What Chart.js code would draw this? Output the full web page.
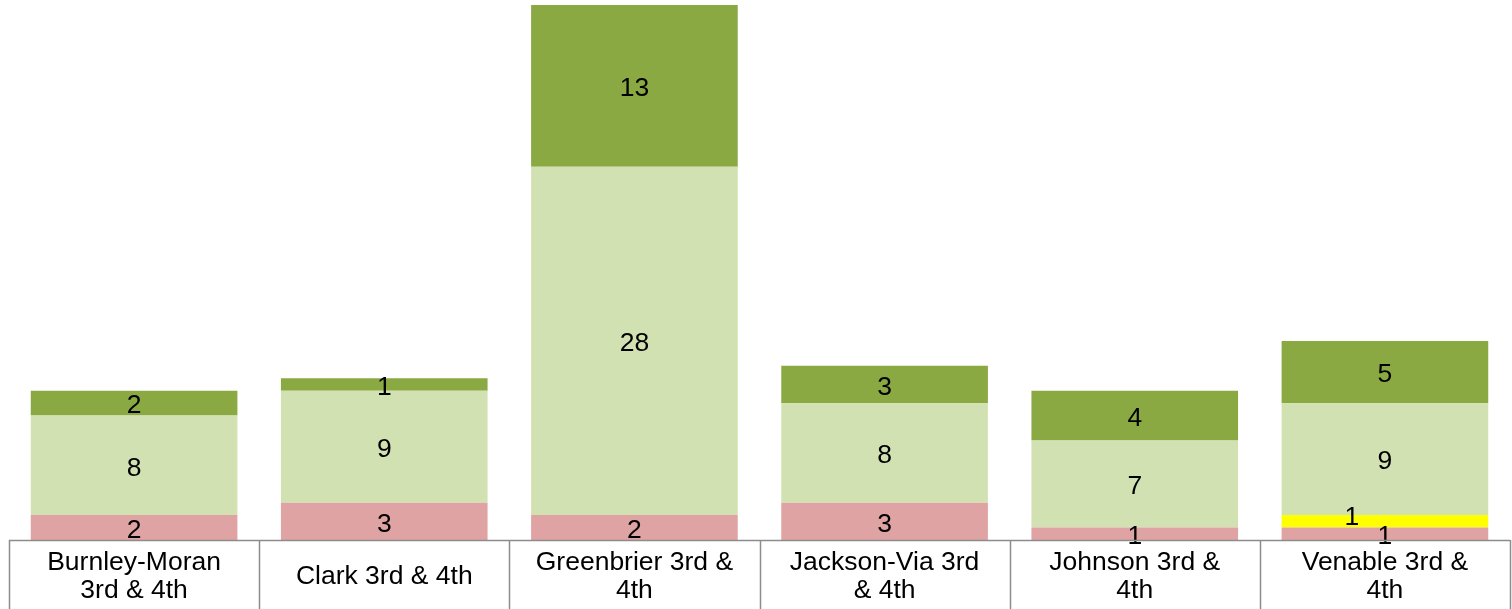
<!DOCTYPE html>
<html lang="en">
<head>
    <meta charset="UTF-8">
    <title>3rd & 4th Grade Results by School</title>
    <script src="https://cdn.jsdelivr.net/npm/chart.js"></script>
    <style>
        html, body { margin: 0; padding: 0; background: #fff; }
        #wrap { width: 1512px; height: 609px; position: relative; }
    </style>
</head>
<body>
    <div id="wrap"><canvas id="chart"></canvas></div>

    <script>
        const schools = [
            ['Burnley-Moran', '3rd & 4th'],
            'Clark 3rd & 4th',
            ['Greenbrier 3rd &', '4th'],
            ['Jackson-Via 3rd', '& 4th'],
            ['Johnson 3rd &', '4th'],
            ['Venable 3rd &', '4th']
        ];
        const pinkValues = [2, 3, 2, 3, 1, 1];
        const yellowValues = [0, 0, 0, 0, 0, 1];
        const lightGreenValues = [8, 9, 28, 8, 7, 9];
        const darkGreenValues = [2, 1, 13, 3, 4, 5];
        const yMax = 43;

        const FONT = '"Liberation Sans", Arial, sans-serif';

        // value labels in the middle of each segment
        const segmentLabels = {
            id: 'segmentLabels',
            afterDatasetsDraw(chart) {
                const ctx = chart.ctx;
                ctx.save();
                ctx.font = '26.5px ' + FONT;
                ctx.fillStyle = '#000';
                ctx.textAlign = 'center';
                ctx.textBaseline = 'middle';
                chart.data.datasets.forEach((ds, i) => {
                    const meta = chart.getDatasetMeta(i);
                    const dx = ds.labelShiftX || 0;
                    const dy = ds.labelShiftY || 0;
                    meta.data.forEach((bar, j) => {
                        const v = ds.data[j];
                        if (!v) return;
                        ctx.fillText(String(v), bar.x + dx, (bar.y + bar.base) / 2 + 3 + dy);
                    });
                });
                ctx.restore();
            }
        };

        // table-style box under the bars
        const categoryBox = {
            id: 'categoryBox',
            afterDraw(chart) {
                const ctx = chart.ctx;
                const x = chart.scales.x;
                const area = chart.chartArea;
                const half = (x.getPixelForValue(1) - x.getPixelForValue(0)) / 2;
                ctx.save();
                ctx.strokeStyle = '#8c8c8c';
                ctx.lineWidth = 1.5;
                ctx.beginPath();
                ctx.moveTo(x.left, area.bottom + 0.5);
                ctx.lineTo(x.right, area.bottom + 0.5);
                for (let i = 0; i <= schools.length; i++) {
                    const px = Math.round(x.getPixelForValue(i) - half) + 0.5;
                    ctx.moveTo(px, area.bottom);
                    ctx.lineTo(px, chart.height);
                }
                ctx.stroke();
                ctx.restore();
            }
        };

        new Chart(document.getElementById('chart'), {
            type: 'bar',
            data: {
                labels: schools,
                datasets: [
                    { data: pinkValues, backgroundColor: '#e0a3a3' },
                    { data: yellowValues, backgroundColor: '#ffff00', labelShiftX: -33, labelShiftY: -7 },
                    { data: lightGreenValues, backgroundColor: '#d2e1b1' },
                    { data: darkGreenValues, backgroundColor: '#8ba942' }
                ]
            },
            options: {
                responsive: true,
                maintainAspectRatio: false,
                animation: false,
                layout: { padding: { top: 5, left: 9, right: 2, bottom: 0 } },
                datasets: {
                    bar: { categoryPercentage: 1, barPercentage: 0.826 }
                },
                plugins: {
                    legend: { display: false },
                    tooltip: { enabled: false }
                },
                scales: {
                    x: {
                        stacked: true,
                        grid: { display: false, drawTicks: false },
                        border: { display: false },
                        afterFit(scale) { scale.height = 69; },
                        ticks: {
                            color: '#000',
                            padding: 23,
                            crossAlign: 'center',
                            maxRotation: 0,
                            autoSkip: false,
                            font: { family: FONT, size: 26.5, lineHeight: 28 / 26.5 }
                        }
                    },
                    y: {
                        stacked: true,
                        display: false,
                        min: 0,
                        max: yMax
                    }
                }
            },
            plugins: [segmentLabels, categoryBox]
        });
    </script>
</body>
</html>
